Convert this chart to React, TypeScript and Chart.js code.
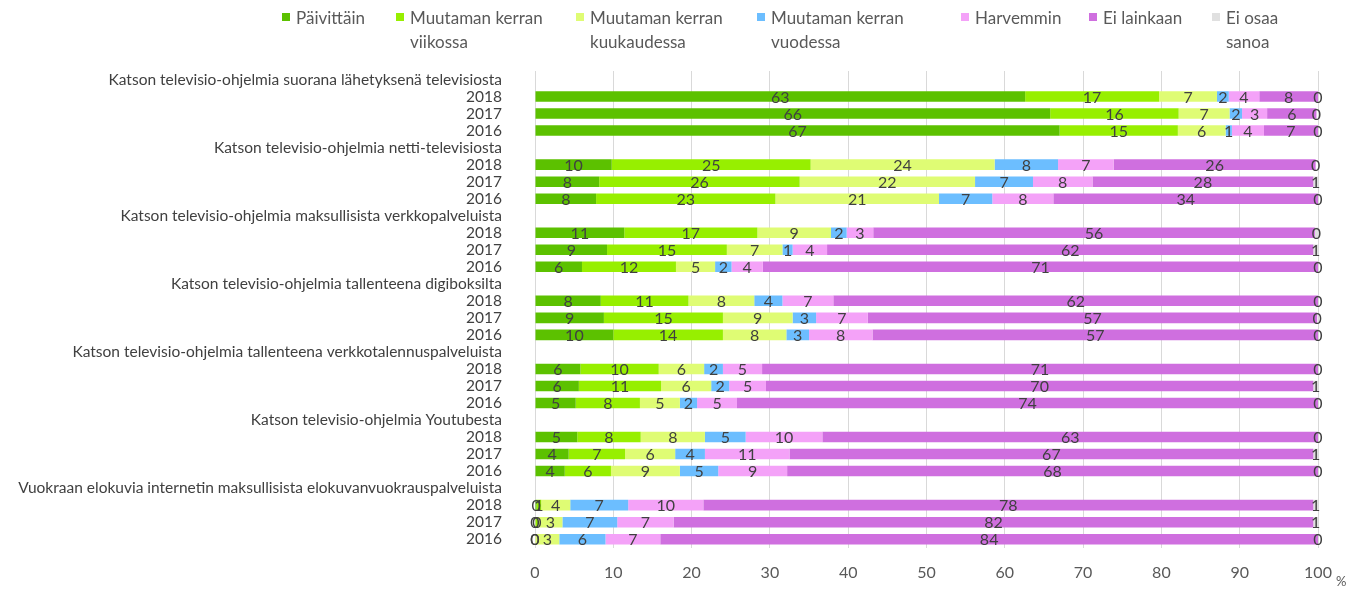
import React, { useEffect, useRef } from 'react';
import { Chart, registerables } from 'chart.js';

Chart.register(...registerables);

const groups = [
  'Katson televisio-ohjelmia suorana lähetyksenä televisiosta',
  'Katson televisio-ohjelmia netti-televisiosta',
  'Katson televisio-ohjelmia maksullisista verkkopalveluista',
  'Katson televisio-ohjelmia tallenteena digiboksilta',
  'Katson televisio-ohjelmia tallenteena verkkotalennuspalveluista',
  'Katson televisio-ohjelmia Youtubesta',
  'Vuokraan elokuvia internetin maksullisista elokuvanvuokrauspalveluista',
];
const years = ['2018', '2017', '2016'];

const seriesNames = [
  'Päivittäin',
  'Muutaman kerran viikossa',
  'Muutaman kerran kuukaudessa',
  'Muutaman kerran vuodessa',
  'Harvemmin',
  'Ei lainkaan',
  'Ei osaa sanoa',
];
const legendLines = [
  ['Päivittäin'],
  ['Muutaman kerran', 'viikossa'],
  ['Muutaman kerran', 'kuukaudessa'],
  ['Muutaman kerran', 'vuodessa'],
  ['Harvemmin'],
  ['Ei lainkaan'],
  ['Ei osaa', 'sanoa'],
];

// Row order: each group 2018, 2017, 2016
const paivittain = [62.6, 65.8, 67.0, 9.8, 8.2, 7.8, 11.4, 9.2, 6.0, 8.4, 8.8, 10.0, 5.8, 5.6, 5.2, 5.4, 4.3, 3.8, 0.2, 0, 0];
const viikossa = [17.1, 16.4, 15.1, 25.4, 25.6, 22.9, 17.0, 15.3, 12.0, 11.2, 15.2, 14.0, 10.0, 10.5, 8.2, 8.1, 7.2, 5.9, 0.6, 0.4, 0];
const kuukaudessa = [7.4, 6.5, 6.1, 23.5, 22.4, 20.9, 9.4, 7.1, 5.0, 8.4, 8.9, 8.1, 5.8, 6.4, 5.1, 8.2, 6.4, 8.8, 3.7, 3.1, 3.1];
const vuodessa = [1.5, 1.6, 0.8, 8.1, 7.4, 6.8, 2.0, 1.3, 2.1, 3.6, 3.0, 2.9, 2.4, 2.3, 2.2, 5.2, 3.8, 4.9, 7.4, 7.0, 5.9];
const harvemmin = [3.9, 3.2, 4.1, 7.1, 7.6, 7.8, 3.4, 4.4, 4.0, 6.5, 6.6, 8.1, 5.0, 4.7, 5.1, 9.8, 10.8, 8.8, 9.6, 7.2, 7.0];
const eiLainkaan = [7.5, 6.3, 6.9, 25.8, 28.2, 33.8, 56.4, 62.1, 70.9, 61.9, 57.4, 56.9, 71.0, 69.9, 74.2, 63.3, 66.9, 67.8, 77.9, 81.7, 84.0];
const eiOsaa = [0, 0, 0, 0, 0.6, 0, 0.4, 0.6, 0, 0, 0, 0, 0, 0.6, 0, 0, 0.6, 0, 0.6, 0.6, 0];

const xTicks = [0, 10, 20, 30, 40, 50, 60, 70, 80, 90, 100];

const colors = ['#5cc100', '#97ef00', '#dffc74', '#6cbeff', '#f4a2f8', '#cf6fdf', '#e0e0e0'];
const legendX = [282, 396, 576, 757, 961, 1089, 1212];

const FONT = 'Lato, "Open Sans", sans-serif';
const TEXT = '#404040';

export default function App() {
  const ref = useRef<HTMLCanvasElement | null>(null);

  useEffect(() => {
    const canvas = ref.current;
    if (!canvas) return;

    const labels: string[] = [];
    groups.forEach((g) => {
      labels.push(g);
      years.forEach((y) => labels.push(y));
    });
    const expand = (arr: number[]) => {
      const out: (number | null)[] = [];
      groups.forEach((_, gi) => {
        out.push(null);
        for (let k = 0; k < 3; k++) out.push(arr[gi * 3 + k]);
      });
      return out;
    };
    const all = [paivittain, viikossa, kuukaudessa, vuodessa, harvemmin, eiLainkaan, eiOsaa];

    const dataLabels = {
      id: 'dataLabels',
      afterDatasetsDraw(chart: any) {
        const ctx = chart.ctx;
        ctx.save();
        ctx.font = `16px ${FONT}`;
        ctx.fillStyle = TEXT;
        ctx.textAlign = 'center';
        ctx.textBaseline = 'middle';
        chart.data.datasets.forEach((ds: any, di: number) => {
          const meta = chart.getDatasetMeta(di);
          meta.data.forEach((el: any, i: number) => {
            const v = ds.data[i];
            if (v === null || v === undefined) return;
            const p = el.getProps(['x', 'y', 'base'], true);
            const cx = (p.x + p.base) / 2;
            ctx.fillText(String(Math.round(v)), cx, p.y + 1);
          });
        });
        ctx.restore();
      },
    };

    const legendPlugin = {
      id: 'customLegend',
      afterDraw(chart: any) {
        const ctx = chart.ctx;
        ctx.save();
        ctx.font = `17px ${FONT}`;
        ctx.textBaseline = 'middle';
        ctx.textAlign = 'left';
        legendLines.forEach((lines, i) => {
          const x = legendX[i];
          ctx.fillStyle = colors[i];
          ctx.fillRect(x, 13, 8, 8);
          ctx.fillStyle = '#595959';
          lines.forEach((ln, li) => {
            ctx.fillText(ln, x + 14, 18.5 + li * 24);
          });
        });
        // percent sign
        ctx.font = `13px ${FONT}`;
        ctx.fillStyle = '#595959';
        ctx.fillText('%', 1336, 582);
        ctx.restore();
      },
    };

    const chart = new Chart(canvas, {
      type: 'bar',
      data: {
        labels,
        datasets: all.map((arr, i) => ({
          label: seriesNames[i],
          data: expand(arr),
          backgroundColor: colors[i],
          borderWidth: 0,
          barPercentage: 0.62,
          categoryPercentage: 1,
        })),
      },
      options: {
        indexAxis: 'y',
        responsive: false,
        animation: false,
        layout: { padding: { top: 71, right: 45, left: 0, bottom: 0 } },
        plugins: {
          legend: { display: false },
          tooltip: { enabled: false },
        },
        scales: {
          x: {
            stacked: true,
            min: 0,
            max: 100,
            afterBuildTicks(scale: any) {
              scale.ticks = xTicks.map((v) => ({ value: v }));
            },
            afterFit(scale: any) {
              scale.height = 35;
            },
            grid: { color: '#d9d9d9', lineWidth: 1, drawTicks: false },
            border: { display: false },
            ticks: {
              color: '#595959',
              font: { family: FONT, size: 16 },
              padding: 16,
              maxRotation: 0,
            },
          },
          y: {
            stacked: true,
            afterFit(scale: any) {
              scale.width = 535;
            },
            grid: { display: false, drawTicks: false },
            border: { display: false },
            ticks: {
              color: TEXT,
              font: { family: FONT, size: 15.5 },
              padding: 33,
              autoSkip: false,
            },
          },
        },
      },
      plugins: [dataLabels, legendPlugin],
    } as any);

    return () => chart.destroy();
  }, []);

  return (
    <div style={{ position: 'absolute', left: 0, top: 0, width: 1363, height: 590, background: '#fff' }}>
      <canvas ref={ref} width={1363} height={590} style={{ width: 1363, height: 590 }} />
    </div>
  );
}
